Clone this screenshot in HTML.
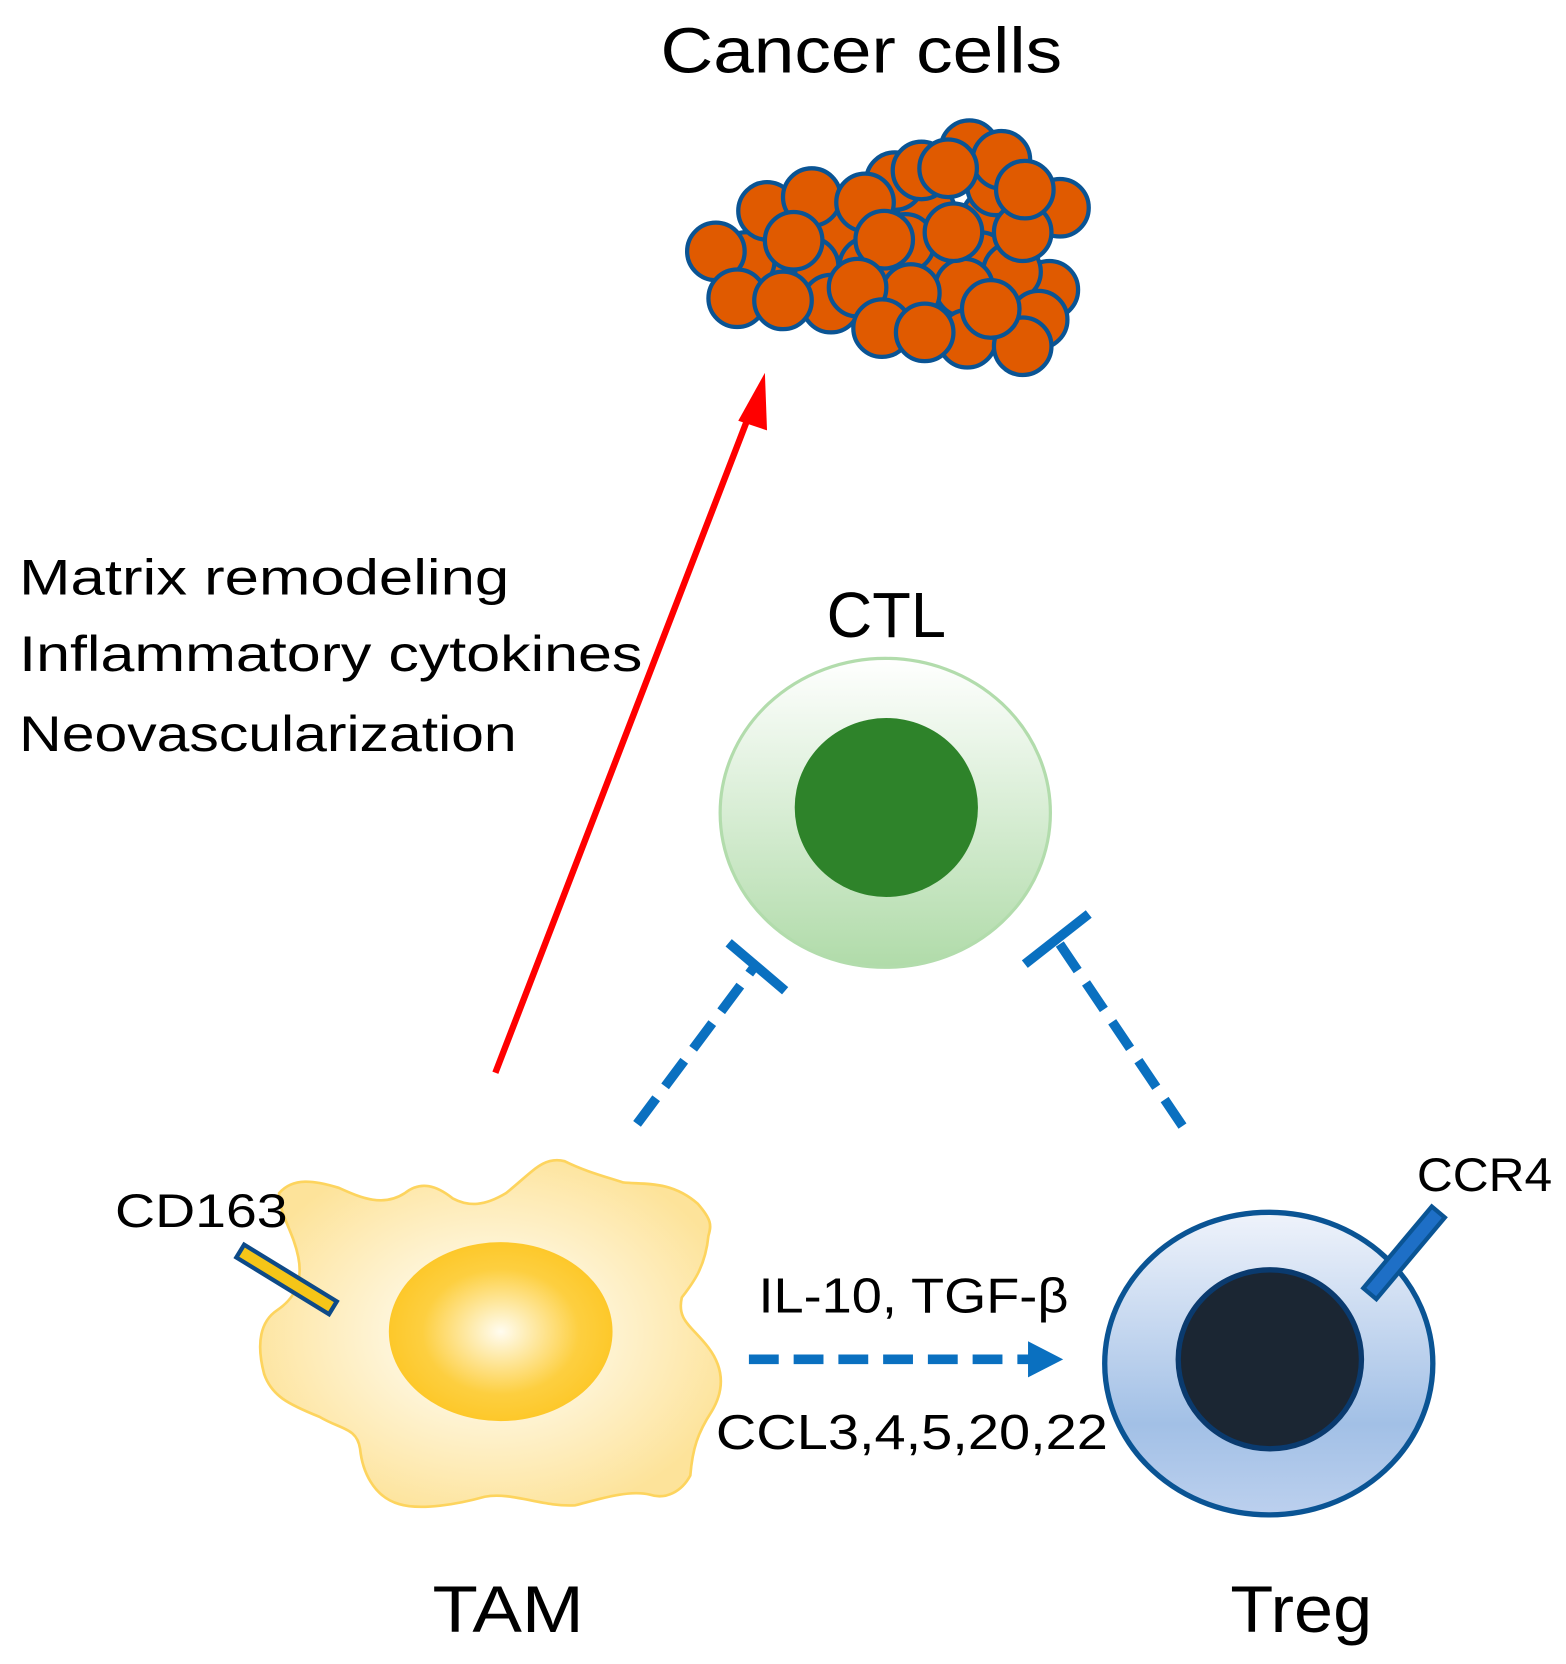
<!DOCTYPE html>
<html><head><meta charset="utf-8"><style>html,body{margin:0;padding:0;background:#fff}svg{display:block}</style></head>
<body>
<svg width="1566" height="1664" viewBox="0 0 1470 1562" xmlns="http://www.w3.org/2000/svg" font-family="'Liberation Sans', 'DejaVu Sans', sans-serif">
<defs>
<linearGradient id="ctl" x1="0" y1="0" x2="0" y2="1"><stop offset="0" stop-color="#ffffff"/><stop offset="1" stop-color="#b0dba9"/></linearGradient>
<radialGradient id="tam" cx="0.5" cy="0.5" r="0.55"><stop offset="0.15" stop-color="#fffcf2"/><stop offset="1" stop-color="#fde39a"/></radialGradient>
<radialGradient id="tamn" cx="0.5" cy="0.5" r="0.5"><stop offset="0" stop-color="#fffcf0"/><stop offset="0.7" stop-color="#fdcf40"/><stop offset="1" stop-color="#fdc82a"/></radialGradient>
<linearGradient id="treg" x1="0" y1="0" x2="0" y2="1"><stop offset="0" stop-color="#eff3fb"/><stop offset="0.7" stop-color="#a2c0e6"/><stop offset="1" stop-color="#bcd0ee"/></linearGradient>
</defs>

<text x="620" y="68" font-size="60" textLength="377" lengthAdjust="spacingAndGlyphs">Cancer cells</text>
<g fill="#e05a00" stroke="#0a5494" stroke-width="4">
<circle cx="790" cy="215" r="27"/><circle cx="870" cy="200" r="27"/><circle cx="880" cy="250" r="27"/>
<circle cx="760" cy="250" r="27"/><circle cx="815" cy="250" r="27"/><circle cx="930" cy="205" r="27"/>
<circle cx="720" cy="250" r="27"/><circle cx="700" cy="245" r="27"/><circle cx="935" cy="175" r="27"/>
<circle cx="672" cy="236" r="27"/><circle cx="720" cy="198" r="27"/><circle cx="762" cy="185" r="27"/>
<circle cx="840" cy="170" r="27"/><circle cx="910" cy="140" r="27"/><circle cx="940" cy="150" r="27"/>
<circle cx="995" cy="195" r="27"/><circle cx="812" cy="190" r="27"/><circle cx="985" cy="272" r="27"/>
<circle cx="850" cy="228" r="27"/><circle cx="830" cy="225" r="27"/><circle cx="920" cy="245" r="27"/>
<circle cx="950" cy="255" r="27"/><circle cx="975" cy="300" r="27"/><circle cx="905" cy="270" r="27"/>
<circle cx="855" cy="275" r="27"/><circle cx="780" cy="285" r="27"/><circle cx="960" cy="218" r="27"/>
<circle cx="745" cy="226" r="27"/><circle cx="865" cy="160" r="27"/><circle cx="962" cy="178" r="27"/>
<circle cx="895" cy="218" r="27"/><circle cx="692" cy="280" r="27"/><circle cx="735" cy="282" r="27"/>
<circle cx="805" cy="270" r="27"/><circle cx="908" cy="318" r="27"/><circle cx="960" cy="325" r="27"/>
<circle cx="828" cy="308" r="27"/><circle cx="868" cy="312" r="27"/><circle cx="930" cy="290" r="27"/>
<circle cx="890" cy="158" r="27"/>
</g>

<line x1="465" y1="1007" x2="705" y2="385" stroke="#f00" stroke-width="6"/>
<polygon points="718,350 693,395 720,404" fill="#f00"/>

<g font-size="47">
<text x="18" y="558" textLength="460" lengthAdjust="spacingAndGlyphs">Matrix remodeling</text>
<text x="18" y="630" textLength="585" lengthAdjust="spacingAndGlyphs">Inflammatory cytokines</text>
<text x="18" y="705" textLength="467" lengthAdjust="spacingAndGlyphs">Neovascularization</text>
</g>

<text x="776" y="598" font-size="60" textLength="112" lengthAdjust="spacingAndGlyphs">CTL</text>
<ellipse cx="831" cy="763" rx="155" ry="145" fill="url(#ctl)" stroke="#b2dcac" stroke-width="3"/>
<ellipse cx="832" cy="758" rx="86" ry="84" fill="#2e832a"/>

<g stroke="#0a70c0" stroke-width="9" fill="none">
<line x1="598" y1="1055" x2="710" y2="905" stroke-dasharray="30,14"/>
<line x1="684" y1="885" x2="737" y2="930"/>
<line x1="1110" y1="1057" x2="992" y2="882" stroke-dasharray="30,14"/>
<line x1="962" y1="905" x2="1022" y2="858"/>
<line x1="703" y1="1276" x2="968" y2="1276" stroke-dasharray="28,14"/>
</g>
<polygon points="965,1259 998,1276 965,1293" fill="#0a70c0"/>

<path d="M262,1120 C275,1105 295,1108 318,1115 C340,1125 360,1133 380,1120 C395,1108 410,1113 425,1125 C440,1133 455,1132 475,1120 C500,1100 510,1085 530,1090 C550,1100 570,1105 585,1110 C605,1112 630,1108 655,1130 C668,1145 668,1150 665,1160 C662,1190 650,1205 640,1218 C635,1240 650,1245 665,1265 C680,1285 680,1305 668,1325 C655,1345 650,1360 648,1385 C640,1400 625,1408 610,1403 C590,1398 560,1408 540,1413 C510,1415 480,1400 455,1405 C430,1412 395,1418 375,1412 C350,1405 340,1380 338,1360 C335,1340 320,1342 300,1330 C270,1318 255,1310 248,1290 C240,1260 245,1240 260,1230 C275,1220 285,1205 280,1180 C275,1155 262,1140 262,1120 Z" fill="url(#tam)" stroke="#fdd45e" stroke-width="2.5"/>
<ellipse cx="470" cy="1250" rx="105" ry="84" fill="url(#tamn)"/>
<text x="108" y="1152" font-size="44" textLength="162" lengthAdjust="spacingAndGlyphs">CD163</text>
<g transform="translate(269,1201) rotate(31.5)">
<rect x="-51" y="-7" width="102" height="14" fill="#f5c518" stroke="#0d4a88" stroke-width="4"/>
</g>

<text x="712" y="1232" font-size="46" textLength="291" lengthAdjust="spacingAndGlyphs">IL-10, TGF-β</text>
<text x="672" y="1360" font-size="46" textLength="368" lengthAdjust="spacingAndGlyphs">CCL3,4,5,20,22</text>

<ellipse cx="1191" cy="1280" rx="154" ry="142" fill="url(#treg)" stroke="#0a5494" stroke-width="5"/>
<ellipse cx="1192" cy="1276" rx="86" ry="84" fill="#1b2633" stroke="#0a3a6e" stroke-width="5"/>
<g transform="translate(1318,1176) rotate(-50)">
<rect x="-50" y="-8" width="100" height="16" fill="#1e6fc6" stroke="#0a5494" stroke-width="4"/>
</g>
<text x="1330" y="1118" font-size="44" textLength="127" lengthAdjust="spacingAndGlyphs">CCR4</text>

<text x="406" y="1532" font-size="62" textLength="142" lengthAdjust="spacingAndGlyphs">TAM</text>
<text x="1155" y="1532" font-size="62" textLength="133" lengthAdjust="spacingAndGlyphs">Treg</text>
</svg>
</body></html>
